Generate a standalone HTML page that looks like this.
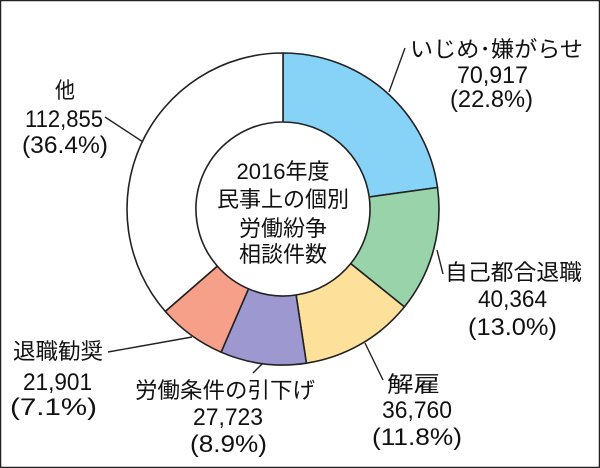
<!DOCTYPE html>
<html><head><meta charset="utf-8"><style>
html,body{margin:0;padding:0;background:#fff}
svg{display:block}
text{font-family:"Liberation Sans","Noto Sans CJK JP",sans-serif;fill:#111}
</style></head><body>
<svg width="600" height="468" viewBox="0 0 600 468" xmlns="http://www.w3.org/2000/svg">
<rect x="0.5" y="0.5" width="599" height="467" fill="#fff" stroke="#222" stroke-width="1.5"/>
<g stroke="#222" stroke-width="1.6" stroke-linejoin="round">
<path d="M283,53 A156,156 0 0 1 437.5,187.5 L369.2,197 A87,87 0 0 0 283,122 Z" fill="#87d3f8"/>
<path d="M437.5,187.5 A156,156 0 0 1 404.4,306.9 L350.7,263.6 A87,87 0 0 0 369.2,197 Z" fill="#98d3aa"/>
<path d="M404.4,306.9 A156,156 0 0 1 306.4,363.2 L296.1,295 A87,87 0 0 0 350.7,263.6 Z" fill="#fde19b"/>
<path d="M306.4,363.2 A156,156 0 0 1 221.1,352.2 L248.5,288.8 A87,87 0 0 0 296.1,295 Z" fill="#9d98d0"/>
<path d="M221.1,352.2 A156,156 0 0 1 165.3,311.4 L217.3,266.1 A87,87 0 0 0 248.5,288.8 Z" fill="#f6a08a"/>
<path d="M165.3,311.4 A156,156 0 0 1 283,53 L283,122 A87,87 0 0 0 217.3,266.1 Z" fill="#fff"/>
</g>
<g stroke="#222" stroke-width="1.4" fill="none">
<line x1="389" y1="92" x2="405" y2="48"/>
<line x1="143" y1="142" x2="105" y2="117"/>
<line x1="437" y1="250" x2="443" y2="274"/>
<line x1="365" y1="343" x2="383" y2="380"/>
<line x1="263" y1="363" x2="253" y2="373"/>
<line x1="192" y1="337" x2="108" y2="352"/>
</g>
<g font-size="22" text-anchor="middle">
<text x="283" y="179">2016年度</text>
<text x="283" y="207">民事上の個別</text>
<text x="283" y="236">労働紛争</text>
<text x="283" y="262">相談件数</text>
</g>
<g font-size="22" lengthAdjust="spacingAndGlyphs">
<text x="410" y="57" textLength="173" lengthAdjust="spacingAndGlyphs">いじめ･嫌がらせ</text>
<text x="55" y="98" textLength="20" lengthAdjust="spacingAndGlyphs">他</text>
<text x="445" y="280" textLength="137" lengthAdjust="spacingAndGlyphs">自己都合退職</text>
<text x="13" y="359" textLength="90" lengthAdjust="spacingAndGlyphs">退職勧奨</text>
<text x="135" y="398" textLength="180" lengthAdjust="spacingAndGlyphs">労働条件の引下げ</text>
<text x="387" y="392" textLength="53" lengthAdjust="spacingAndGlyphs">解雇</text>
</g>
<g font-size="24">
<text x="457" y="83" textLength="71" lengthAdjust="spacingAndGlyphs">70,917</text>
<text x="450" y="107" textLength="83" lengthAdjust="spacingAndGlyphs">(22.8%)</text>
<text x="25" y="127" textLength="78" lengthAdjust="spacingAndGlyphs">112,855</text>
<text x="22" y="153" textLength="86" lengthAdjust="spacingAndGlyphs">(36.4%)</text>
<text x="478" y="307" textLength="69" lengthAdjust="spacingAndGlyphs">40,364</text>
<text x="468" y="335" textLength="89" lengthAdjust="spacingAndGlyphs">(13.0%)</text>
<text x="23" y="390" textLength="69" lengthAdjust="spacingAndGlyphs">21,901</text>
<text x="10" y="415" textLength="87" lengthAdjust="spacingAndGlyphs">(7.1%)</text>
<text x="193" y="425" textLength="70" lengthAdjust="spacingAndGlyphs">27,723</text>
<text x="190" y="452" textLength="77" lengthAdjust="spacingAndGlyphs">(8.9%)</text>
<text x="382" y="418" textLength="70" lengthAdjust="spacingAndGlyphs">36,760</text>
<text x="372" y="445" textLength="90" lengthAdjust="spacingAndGlyphs">(11.8%)</text>
</g>
</svg>
</body></html>
